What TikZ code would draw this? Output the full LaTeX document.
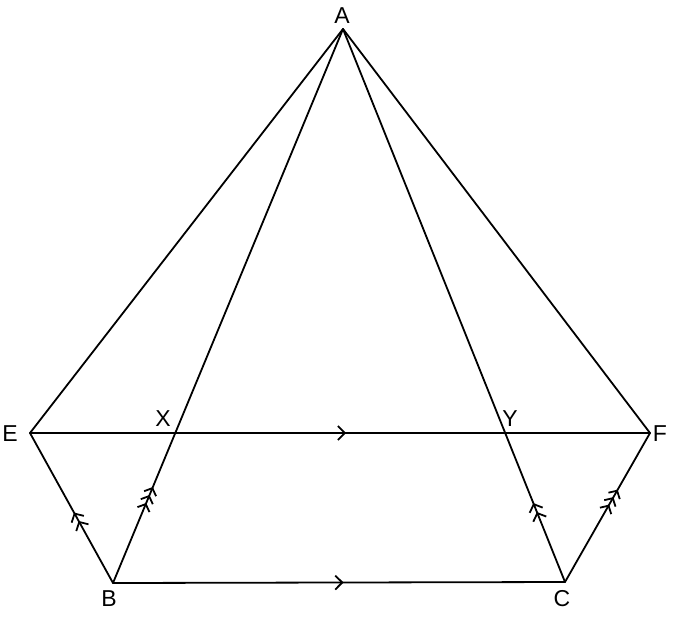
\documentclass[tikz,border=0pt]{standalone}
\usepackage{fontspec}
\setmainfont{Liberation Sans}
\usetikzlibrary{arrows.meta,decorations.markings}

\tikzset{
  parone/.style={postaction={decorate}, decoration={markings,
    mark=at position #1 with {\arrow{Straight Barb[length=7pt, width=14pt]}}}},
  partwo/.style={postaction={decorate}, decoration={markings,
    mark=at position #1 with {\arrow{Straight Barb[length=6.5pt, width=14pt, sep=1pt] Straight Barb[length=6.5pt, width=14pt]}}}},
  parthree/.style={postaction={decorate}, decoration={markings,
    mark=at position #1 with {\arrow{Straight Barb[length=6pt, width=13pt, sep=0.5pt] Straight Barb[length=6pt, width=13pt, sep=0.5pt] Straight Barb[length=6pt, width=13pt]}}}},
  lbl/.style={font=\fontsize{23}{28}\selectfont, inner sep=0pt}
}

\begin{document}
\begin{tikzpicture}[x=1pt, y=-1pt, line width=1.8pt, line cap=round, line join=round]
  \useasboundingbox (0,0) rectangle (674,616);
  % corners
  \coordinate (A) at (343,29);
  \coordinate (E) at (30,433);
  \coordinate (F) at (650,433);
  \coordinate (B) at (113,583);
  \coordinate (C) at (565,582);
  \coordinate (X) at (intersection of A--B and E--F);
  \coordinate (Y) at (intersection of A--C and E--F);

  \draw (E) -- (A) -- (F);
  \draw (A) -- (X);
  \draw (A) -- (Y);
  \draw [parone=0.51] (E) -- (F);
  \draw [parone=0.51] (B) -- (C);
  \draw [partwo=0.47] (B) -- (E);
  \draw [partwo=0.53] (C) -- (Y);
  \draw [parthree=0.64] (B) -- (X);
  \draw [parthree=0.62] (C) -- (F);

  % labels
  \node [lbl] (lA) at (342,16) {A};
  \node [lbl] (lE) at (10,434) {E};
  \node [lbl] (lF) at (660,434) {F};
  \node [lbl] (lX) at (163,419) {X};
  \node [lbl] (lY) at (510,419) {Y};
  \node [lbl] (lB) at (109,599) {B};
  \node [lbl] (lC) at (562,599) {C};
\end{tikzpicture}
\end{document}
